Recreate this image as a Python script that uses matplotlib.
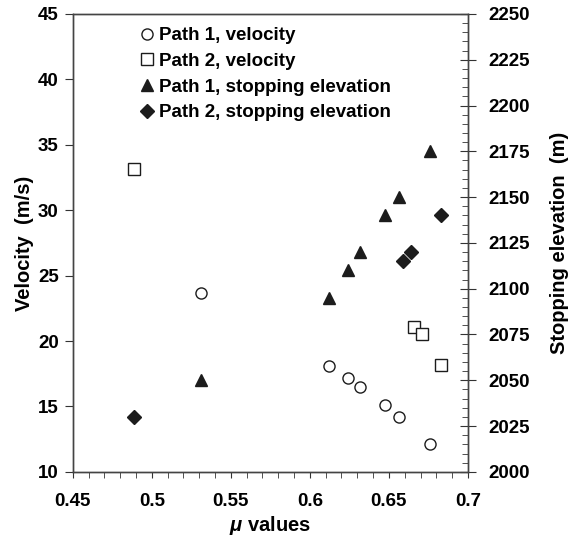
import matplotlib
matplotlib.use("Agg")
import matplotlib.pyplot as plt
from matplotlib.ticker import MultipleLocator

plt.rcParams['font.family'] = ['Liberation Sans', 'DejaVu Sans']
plt.rcParams['font.weight'] = 'bold'
plt.rcParams['mathtext.fontset'] = 'custom'
plt.rcParams['mathtext.rm'] = 'Liberation Sans:bold'
plt.rcParams['mathtext.it'] = 'Liberation Sans:italic:bold'
plt.rcParams['mathtext.bf'] = 'Liberation Sans:bold'

# data
mu_p1 = [0.531, 0.612, 0.624, 0.632, 0.6475, 0.6565, 0.676]
vel_p1 = [23.65, 18.1, 17.15, 16.5, 15.1, 14.2, 12.1]
elev_p1 = [2050, 2095, 2110, 2120, 2140, 2150, 2175]

mu_p2_vel = [0.489, 0.666, 0.671, 0.683]
vel_p2 = [33.15, 21.05, 20.55, 18.15]

mu_p2_elev = [0.489, 0.659, 0.664, 0.683]
elev_p2 = [2030, 2115, 2120, 2140]

fig = plt.figure(figsize=(5.82, 5.38), dpi=100)
ax = fig.add_axes([0.125, 0.123, 0.679, 0.851])
ax2 = ax.twinx()

dark = '#1c1c1c'
h1, = ax.plot(mu_p1, vel_p1, 'o', ms=8, mfc='white', mec=dark, mew=1.0, ls='none',
              label='Path 1, velocity')
h2, = ax.plot(mu_p2_vel, vel_p2, 's', ms=8, mfc='white', mec=dark, mew=1.0, ls='none',
              label='Path 2, velocity')
h3, = ax2.plot(mu_p1, elev_p1, '^', ms=9, color=dark, ls='none',
               label='Path 1, stopping elevation')
h4, = ax2.plot(mu_p2_elev, elev_p2, 'D', ms=7, color=dark, ls='none',
               label='Path 2, stopping elevation')

ax.set_xlim(0.45, 0.7)
ax.set_ylim(10, 45)
ax2.set_ylim(2000, 2250)

ax.xaxis.set_minor_locator(MultipleLocator(0.01))
ax.yaxis.set_major_locator(MultipleLocator(5))
ax2.yaxis.set_major_locator(MultipleLocator(25))
ax2.yaxis.set_minor_locator(MultipleLocator(5))
ax.set_xticks([0.45, 0.5, 0.55, 0.6, 0.65, 0.7])
ax.set_xticklabels(['0.45', '0.5', '0.55', '0.6', '0.65', '0.7'])

ax.tick_params(axis='x', which='major', direction='out', length=4, labelsize=13.5, pad=11, color='#333')
ax.tick_params(axis='x', which='minor', direction='out', length=4, color='#333')
ax.tick_params(axis='y', which='major', direction='out', length=6, labelsize=13.5, pad=4, color='#333')
ax2.tick_params(axis='y', which='major', direction='inout', length=12, labelsize=13.5, pad=9, color='#333')
ax2.tick_params(axis='y', which='minor', direction='in', length=4, color='#333')

for a in (ax, ax2):
    for s in a.spines.values():
        s.set_color('#444')
        s.set_linewidth(1.0)

ax.set_xlabel(r'$\mu$ values', fontsize=14.5, fontweight='bold', labelpad=3)
ax.set_ylabel('Velocity  (m/s)', fontsize=14.5, fontweight='bold', labelpad=3)
ax2.set_ylabel('Stopping elevation  (m)', fontsize=14.5, fontweight='bold', labelpad=14)

ax.legend(handles=[h1, h2, h3, h4], loc='upper left', bbox_to_anchor=(0.136, 1.0),
          frameon=False, fontsize=13.5, handletextpad=0.24, handlelength=0.8,
          labelspacing=0.46, borderaxespad=0.3)

fig.savefig('out.png', dpi=100)
